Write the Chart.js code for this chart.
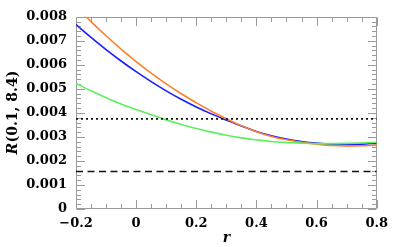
<!DOCTYPE html>
<html>
<head>
<meta charset="utf-8">
<style>
html,body{margin:0;padding:0;background:#fff;}
#wrap{width:395px;height:247px;position:relative;}
</style>
<script src="https://cdn.jsdelivr.net/npm/chart.js@4.4.1/dist/chart.umd.min.js"></script>
</head>
<body>
<div id="wrap"><canvas id="c" width="395" height="247"></canvas></div>
<script>
// ---- data (values in units of 1) ----
const rValues = [-0.2,-0.15,-0.1,-0.05,0,0.05,0.1,0.15,0.2,0.25,0.3,0.35,0.4,0.45,0.5,0.55,0.6,0.65,0.7,0.75,0.8];
const orangeSeries = [0.00843,0.00780,0.00721,0.006656,0.006137,0.005654,0.005208,0.004797,0.004423,0.00407,0.00376,0.00347,0.00322,0.00302,0.00288,0.00278,0.00270,0.00264,0.00262,0.00263,0.00267];
const blueSeries   = [0.00768,0.007143,0.006636,0.006161,0.005716,0.005302,0.004919,0.004566,0.004245,0.00396,0.00370,0.00345,0.00323,0.00305,0.00291,0.00281,0.00274,0.002695,0.00268,0.00270,0.00274];
const greenSeries  = [0.00523,0.00492,0.00463,0.00437,0.00414,0.00392,0.00371,0.00352,0.00335,0.00320,0.00307,0.00296,0.00288,0.00281,0.00277,0.00274,0.00272,0.00272,0.00273,0.00275,0.00278];
const dottedLevel = 0.00375;
const dashedLevel = 0.00156;
const xTickLabels = ['\u22120.2','0','0.2','0.4','0.6','0.8'];
const yTickLabels = ['0','0.001','0.002','0.003','0.004','0.005','0.006','0.007','0.008'];
const xRange = [-0.2, 0.8];
const yRange = [0, 0.008];

const toPts = arr => arr.map((v,i)=>({x:rValues[i], y:v}));
const levelPts = v => [{x:xRange[0], y:v},{x:xRange[1], y:v}];

const FONT = '"DejaVu Serif", "Liberation Serif", serif';
const FRAME = '#9a9a9a';

const frameTicks = {
  id:'frameTicks',
  beforeDatasetsDraw(chart){
    const {ctx, chartArea:a, scales:{x, y}} = chart;
    ctx.save();
    ctx.strokeStyle = FRAME;
    ctx.lineWidth = 1;
    const L = Math.round(a.left)+0.5, R = Math.round(a.right)-0.5, T = Math.round(a.top)+0.5, B = Math.round(a.bottom)-0.5;
    ctx.beginPath();
    ctx.rect(L, T, R-L, B-T);
    ctx.stroke();
    ctx.beginPath();
    // x ticks every 0.05, major every 0.2
    for (let k=0; k<=20; k++){
      const v = xRange[0] + k*0.05;
      const px = Math.round(x.getPixelForValue(v))+0.5;
      const len = (k%4===0) ? 8.5 : 4.5;
      ctx.moveTo(px, B); ctx.lineTo(px, B-len);
      ctx.moveTo(px, T); ctx.lineTo(px, T+len);
    }
    // y ticks every 0.0002, major every 0.001
    for (let k=0; k<=40; k++){
      const v = k*0.0002;
      const py = Math.round(y.getPixelForValue(v))+0.5;
      const len = (k%5===0) ? 8.5 : 4.5;
      ctx.moveTo(L, py); ctx.lineTo(L+len, py);
      ctx.moveTo(R, py); ctx.lineTo(R-len, py);
    }
    ctx.stroke();
    ctx.restore();
  },
  afterDraw(chart){
    const {ctx, chartArea:a} = chart;
    ctx.save();
    ctx.fillStyle = '#000';
    ctx.translate(17, (a.top+a.bottom)/2);
    ctx.rotate(-Math.PI/2);
    ctx.textBaseline = 'alphabetic';
    const f1 = 'italic bold 14px ' + FONT;
    const f2 = 'bold 14px ' + FONT;
    ctx.font = f1; const w1 = ctx.measureText('R').width;
    ctx.font = f2; const w2 = ctx.measureText('(0.1, 8.4)').width;
    const start = -(w1+w2)/2;
    ctx.font = f1; ctx.fillText('R', start, 0);
    ctx.font = f2; ctx.fillText('(0.1, 8.4)', start+w1+0.5, 0);
    ctx.restore();
  }
};

const lineDS = (data, color) => ({data, borderColor:color, borderWidth:1.6, pointRadius:0, fill:false, cubicInterpolationMode:'monotone'});

new Chart(document.getElementById('c'), {
  type:'line',
  data:{
    datasets:[
      Object.assign(lineDS(levelPts(dottedLevel), '#111'), {borderDash:[2,3], borderWidth:1.6, cubicInterpolationMode:'default', tension:0}),
      Object.assign(lineDS(levelPts(dashedLevel), '#111'), {borderDash:[7,4.5], borderWidth:1.6, cubicInterpolationMode:'default', tension:0}),
      lineDS(toPts(greenSeries), '#5cf05c'),
      lineDS(toPts(orangeSeries), '#ff7f2a'),
      lineDS(toPts(blueSeries), '#1c1cff')
    ]
  },
  options:{
    responsive:false,
    animation:false,
    devicePixelRatio:1,
    layout:{padding:{top:7, right:16, left:0, bottom:0}},
    plugins:{legend:{display:false}, tooltip:{enabled:false}},
    scales:{
      x:{
        type:'linear', min:xRange[0], max:xRange[1],
        grid:{display:false, drawTicks:false},
        border:{display:false},
        ticks:{stepSize:0.2, padding:7, color:'#000', maxRotation:0,
          font:{family:FONT, weight:'bold', size:13},
          callback:(v,i)=>xTickLabels[i]},
        title:{display:true, text:'r', color:'#000', padding:{top:0,bottom:0},
          font:{family:FONT, style:'italic', weight:'bold', size:14}},
        afterFit:s=>{s.height = 38;}
      },
      y:{
        type:'linear', min:yRange[0], max:yRange[1],
        grid:{display:false, drawTicks:false},
        border:{display:false},
        ticks:{stepSize:0.001, padding:9, color:'#000',
          font:{family:FONT, weight:'bold', size:13},
          callback:(v,i)=>yTickLabels[i]},
        afterFit:s=>{s.width = 76;}
      }
    }
  },
  plugins:[frameTicks]
});
</script>
</body>
</html>
